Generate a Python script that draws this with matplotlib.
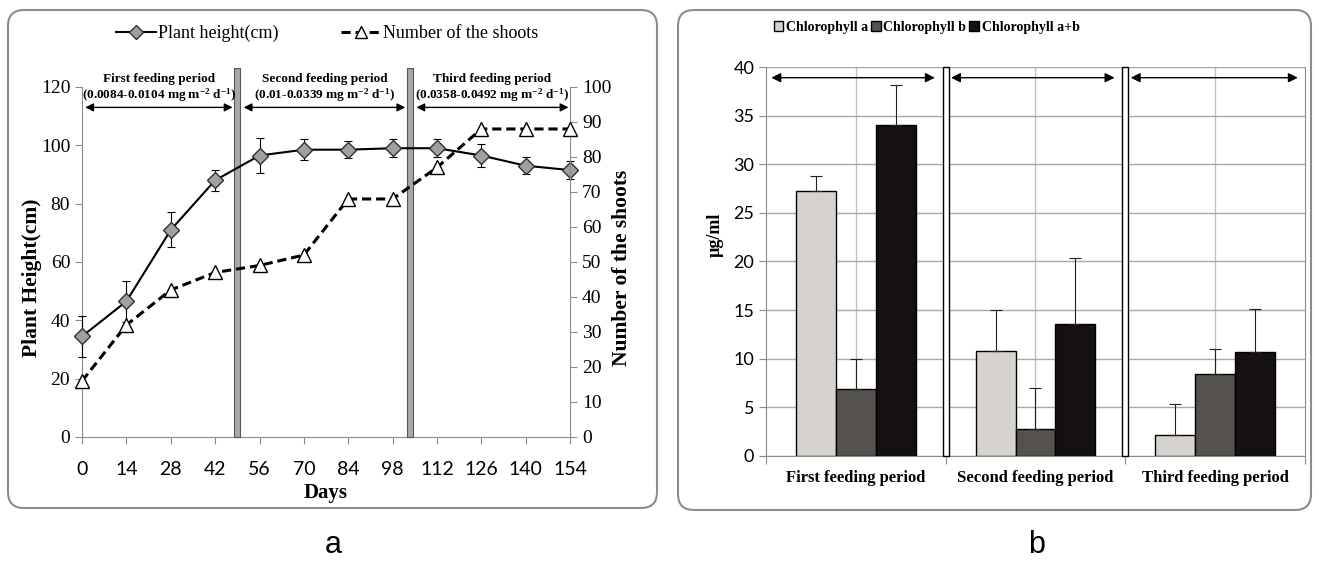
import matplotlib
matplotlib.use("Agg")
import numpy as np
import matplotlib.pyplot as plt
from matplotlib.patches import FancyBboxPatch, Rectangle, Patch
from matplotlib.lines import Line2D

plt.rcParams['font.family'] = ['Liberation Serif', 'DejaVu Serif']
plt.rcParams['mathtext.default'] = 'regular'

# ---- data, panel a ----
days = [0, 14, 28, 42, 56, 70, 84, 98, 112, 126, 140, 154]
height = [34.5, 46.5, 71, 88, 96.5, 98.5, 98.5, 99, 99, 96.5, 93, 91.5]
height_err = [7, 7, 6, 3.5, 6, 3.5, 3, 3, 3, 4, 3, 3]
shoots = [16, 32, 42, 47, 49, 52, 68, 68, 77, 88, 88, 88]

period_names = ["First feeding period", "Second feeding period", "Third feeding period"]
period_rates = ["(0.0084-0.0104 mg m$^{-2}$ d$^{-1}$)",
                "(0.01-0.0339 mg m$^{-2}$ d$^{-1}$)",
                "(0.0358-0.0492 mg m$^{-2}$ d$^{-1}$)"]
period_start = [1, 51, 105.5]
period_end = [47.5, 102, 153.5]
feed_change = [49, 103.5]

# ---- data, panel b ----
periods = ["First feeding period", "Second feeding period", "Third feeding period"]
chl_a = [27.2, 10.8, 2.2]
chl_a_err = [1.6, 4.2, 3.1]
chl_b = [6.9, 2.8, 8.4]
chl_b_err = [3.1, 4.2, 2.6]
chl_ab = [34.0, 13.6, 10.7]
chl_ab_err = [4.1, 6.8, 4.4]

fig = plt.figure(figsize=(13.19, 5.64), dpi=100)

# rounded frames around both panels
for x0, y0, w, h in [(0.08, 0.56, 6.49, 4.98), (6.78, 0.54, 6.33, 5.00)]:
    fig.patches.append(FancyBboxPatch((x0, y0), w, h, boxstyle="round,pad=0,rounding_size=0.16",
                                      transform=fig.dpi_scale_trans, fill=False,
                                      edgecolor="#8c8c8c", lw=1.5))

spine_col = "#8c8c8c"

# ================= panel a =================
ax1 = fig.add_axes([0.0622, 0.2252, 0.370, 0.6206])
ax2 = ax1.twinx()

ax1.errorbar(days, height, yerr=height_err, color="black", lw=1.5, marker="D", ms=8,
             mfc="#a0a0a0", mec="#303030", capsize=3, elinewidth=0.8, capthick=0.8,
             clip_on=False, zorder=4)
ax2.plot(days, shoots, color="black", lw=2.2, ls=(0, (3, 1.6)), marker="^", ms=10,
         mfc="white", mec="black", clip_on=False, zorder=4)

ax1.set_xlim(0, 154)
ax1.set_ylim(0, 120)
ax2.set_ylim(0, 100)
ax1.set_xticks(days)
ax1.set_yticks(range(0, 121, 20))
ax2.set_yticks(range(0, 101, 10))

for a in (ax1, ax2):
    a.spines['top'].set_visible(False)
    for s in ('left', 'right', 'bottom'):
        a.spines[s].set_color(spine_col)
    a.tick_params(colors=spine_col, labelcolor="black", labelsize=14, length=5, direction="out")
ax1.spines['right'].set_visible(False)
ax2.spines['left'].set_visible(False)
ax2.spines['bottom'].set_visible(False)
ax1.tick_params(axis="x", pad=12)
for lab in ax1.get_xticklabels():
    lab.set_family("Lato")
    lab.set_fontsize(14)

ax1.set_xlabel("Days", fontsize=15, fontweight="bold", labelpad=4)
ax1.set_ylabel("Plant Height(cm)", fontsize=15.5, fontweight="bold")
ax2.set_ylabel("Number of the shoots", fontsize=15.5, fontweight="bold")
ax1.yaxis.set_label_coords(-0.082, 0.454)
ax2.yaxis.set_label_coords(1.086, 0.483)

# feeding period separators
for d in feed_change:
    ax1.add_patch(Rectangle((d - 0.95, 0), 1.9, 126.5, facecolor="#a8a8a8",
                            edgecolor="#555555", lw=0.8, clip_on=False, zorder=3))

for name, rate, s, e in zip(period_names, period_rates, period_start, period_end):
    ax1.annotate("", xy=(e, 113), xytext=(s, 113),
                 arrowprops=dict(arrowstyle="<|-|>", color="black", lw=1,
                                 mutation_scale=12, shrinkA=0, shrinkB=0))
    c = (s + e) / 2
    ax1.text(c, 122.7, name, ha="center", va="center", fontsize=9.5, fontweight="bold")
    ax1.text(c, 117.2, rate, ha="center", va="center", fontsize=9.5, fontweight="bold")

leg_handles = [Line2D([], [], color="black", lw=1.5, marker="D", ms=7, mfc="#a0a0a0", mec="#303030"),
               Line2D([], [], color="black", lw=2.2, ls=(0, (3, 1.6)), marker="^", ms=9,
                      mfc="white", mec="black")]
fig.legend(leg_handles, ["Plant height(cm)", "Number of the shoots"], loc="center",
           bbox_to_anchor=(0.248, 0.941), ncol=2, frameon=False, fontsize=13,
           handlelength=2.2, handletextpad=0.1, columnspacing=3.5)

# ================= panel b =================
bx = fig.add_axes([0.5807, 0.1915, 0.4087, 0.6897])
x = np.arange(len(periods))
w = 0.222
bar_kw = dict(edgecolor="black", lw=1, zorder=3,
              error_kw=dict(elinewidth=0.8, capsize=4, capthick=0.8, ecolor="#202020"))
bx.bar(x - w, chl_a, w, yerr=[np.zeros(3), chl_a_err], color="#d6d2cd", label="Chlorophyll a", **bar_kw)
bx.bar(x, chl_b, w, yerr=[np.zeros(3), chl_b_err], color="#55524d", label="Chlorophyll b", **bar_kw)
bx.bar(x + w, chl_ab, w, yerr=[np.zeros(3), chl_ab_err], color="#141014", label="Chlorophyll a+b", **bar_kw)

bx.set_xlim(-0.5, 2.5)
bx.set_ylim(0, 40)
bx.set_yticks(range(0, 41, 5))
bx.set_xticks([-0.5, 0.5, 1.5, 2.5])
bx.set_xticklabels([])
bx.set_xticks(x, minor=True)
bx.set_xticklabels(periods, minor=True, fontsize=12, fontweight="bold")
bx.tick_params(axis="x", which="minor", length=0, pad=10)
bx.tick_params(axis="x", which="major", length=6, colors=spine_col)
bx.tick_params(axis="y", length=5, colors=spine_col, labelcolor="black")
for lab in bx.get_yticklabels():
    lab.set_family("Lato")
    lab.set_fontsize(13)
for s in ('left', 'right', 'bottom', 'top'):
    bx.spines[s].set_color(spine_col)
bx.spines['top'].set_visible(False)
bx.set_axisbelow(True)
bx.grid(True, which="major", axis="y", color="#a8a8a8", lw=1)
for gx in [0, 1, 2]:
    bx.axvline(gx, color="#c0c0c0", lw=1, zorder=0)

bx.set_ylabel("µg/ml", fontsize=13, fontweight="bold")
bx.yaxis.set_label_coords(-0.078, 0.568)

for sep in [0.5, 1.5]:
    bx.add_patch(Rectangle((sep - 0.016, 0), 0.032, 40, facecolor="white", edgecolor="black",
                           lw=1, zorder=4, clip_on=False))

arr_start = [-0.47, 0.53, 1.53]
arr_end = [0.44, 1.44, 2.46]
for s, e in zip(arr_start, arr_end):
    bx.annotate("", xy=(e, 38.9), xytext=(s, 38.9),
                arrowprops=dict(arrowstyle="<|-|>", color="black", lw=1,
                                mutation_scale=14, shrinkA=0, shrinkB=0), zorder=5)

fig.legend(handles=[Patch(facecolor="#d6d2cd", edgecolor="black", label="Chlorophyll a"),
                    Patch(facecolor="#55524d", edgecolor="black", label="Chlorophyll b"),
                    Patch(facecolor="#141014", edgecolor="black", label="Chlorophyll a+b")],
           loc="center left", bbox_to_anchor=(0.577, 0.952), ncol=3, frameon=False,
           prop=dict(weight="bold", size=10), handlelength=0.7, handleheight=0.7,
           handletextpad=0.2, columnspacing=0.2)

fig.text(333 / 1319, 1 - 545 / 564, "a", fontsize=22, family="Liberation Sans", ha="center", va="center")
fig.text(1037 / 1319, 1 - 545 / 564, "b", fontsize=22, family="Liberation Sans", ha="center", va="center")

fig.savefig("out.png", dpi=100)
